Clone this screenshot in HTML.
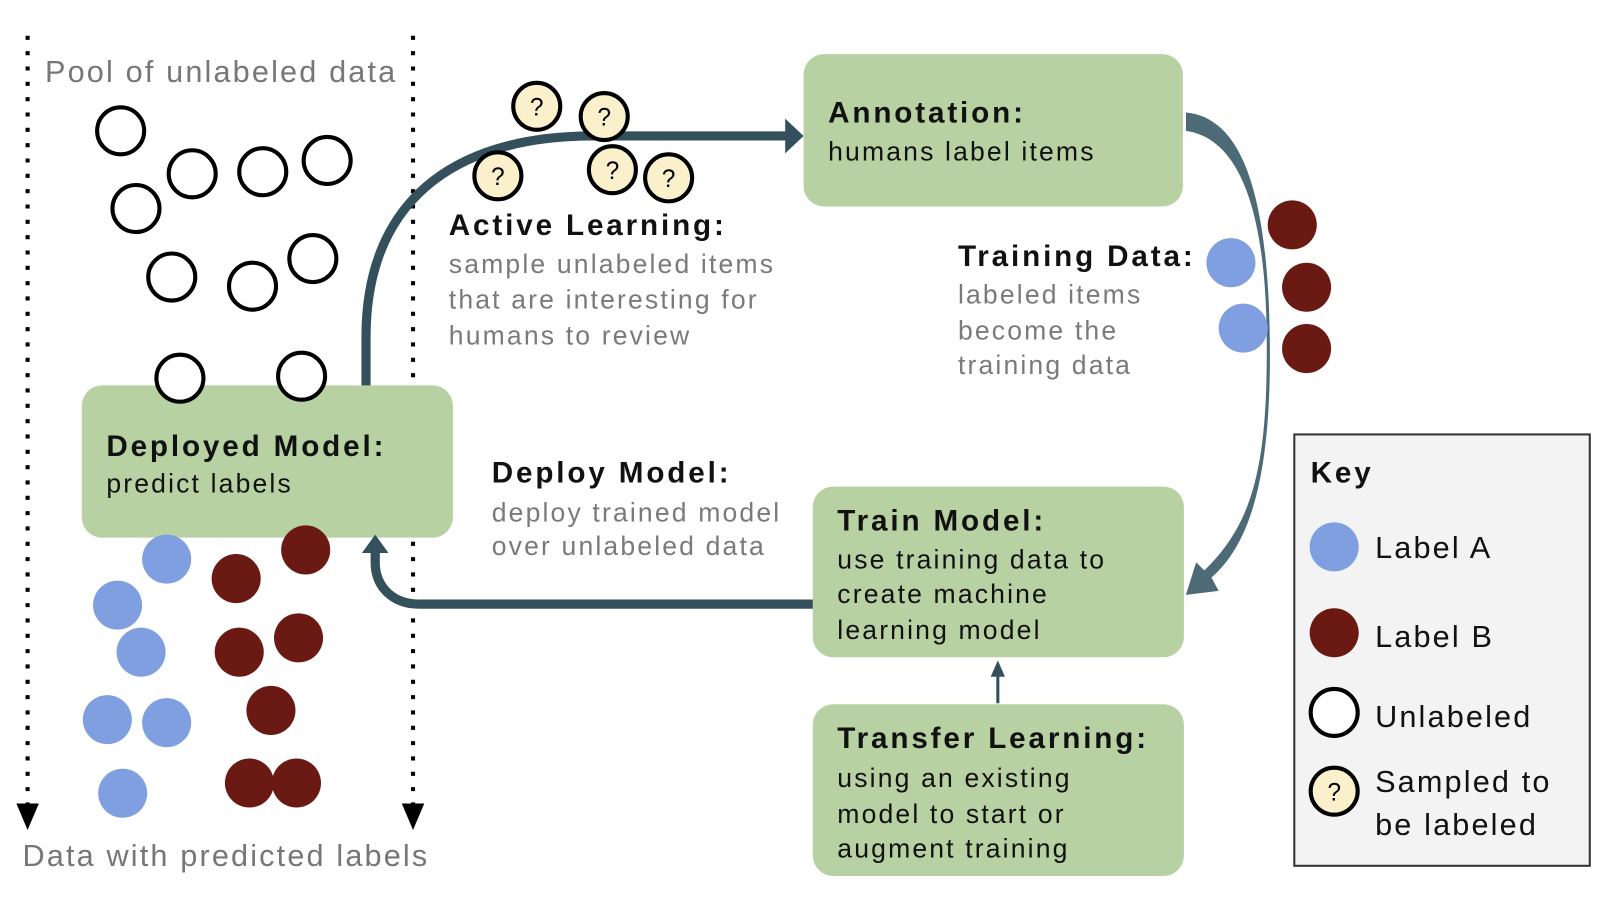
<!DOCTYPE html>
<html><head><meta charset="utf-8"><style>
html,body{margin:0;padding:0;background:#fff;}
svg{display:block;font-family:"Liberation Sans",Arial,sans-serif;}
text{letter-spacing:2.1px;}
.h{font-weight:bold;font-size:29px;fill:#111;letter-spacing:2.8px;}
.b{font-size:26px;fill:#111;}
.g{font-size:26px;fill:#7a7a7a;}
.u{fill:#fff;stroke:#000;stroke-width:4;}
.q{fill:#fbf0cc;stroke:#000;stroke-width:4;}
.qt{font-size:24px;fill:#000;text-anchor:middle;letter-spacing:0;}
.A{fill:#7f9fe0;}
.B{fill:#6a1a12;}
.box{fill:#b7d1a2;}
</style></head><body>
<svg width="1600" height="898" viewBox="0 0 1565 878.5" preserveAspectRatio="none">
<line x1="27" y1="35" x2="27" y2="790" stroke="#000" stroke-width="4" stroke-dasharray="4,11"/>
<line x1="404" y1="35" x2="404" y2="790" stroke="#000" stroke-width="4" stroke-dasharray="4,11"/>
<polygon points="16,786 38,786 27,812" fill="#000"/>
<polygon points="393,786 415,786 404,812" fill="#000"/>
<text x="44" y="80" style="font-size:30px;fill:#777">Pool of unlabeled data</text>
<text x="22" y="847" style="font-size:30px;fill:#777">Data with predicted labels</text>

<g class="u">
<circle cx="118" cy="128" r="23"/><circle cx="188" cy="170" r="23"/><circle cx="257" cy="168" r="23"/>
<circle cx="320" cy="157" r="23"/><circle cx="133" cy="204" r="23"/><circle cx="168" cy="271" r="23"/>
<circle cx="247" cy="280" r="23"/><circle cx="306" cy="253" r="23"/>
</g>

<path d="M358,380 L358,330 C358,200 440,133 580,133 L772,133" fill="none" stroke="#34505c" stroke-width="9"/>
<polygon points="768,116 786,133 768,150" fill="#34505c"/>

<rect class="box" x="80" y="377" width="363" height="149" rx="20"/>
<g class="u"><circle cx="176" cy="370" r="23"/><circle cx="295" cy="368" r="23"/></g>
<text x="104" y="446" class="h">Deployed Model:</text>
<text x="104" y="482" class="b">predict labels</text>

<g class="A"><circle cx="163" cy="547" r="24"/><circle cx="115" cy="592" r="24"/><circle cx="138" cy="638" r="24"/>
<circle cx="105" cy="704" r="24"/><circle cx="163" cy="707" r="24"/><circle cx="120" cy="776" r="24"/></g>
<g class="B"><circle cx="231" cy="566" r="24"/><circle cx="299" cy="538" r="24"/><circle cx="234" cy="638" r="24"/>
<circle cx="292" cy="624" r="24"/><circle cx="265" cy="695" r="24"/><circle cx="244" cy="766" r="24"/><circle cx="290" cy="766" r="24"/></g>

<g><circle class="q" cx="525" cy="104" r="23"/><text class="qt" x="525" y="113">?</text>
<circle class="q" cx="591" cy="114" r="23"/><text class="qt" x="591" y="123">?</text>
<circle class="q" cx="487" cy="172" r="23"/><text class="qt" x="487" y="181">?</text>
<circle class="q" cx="599" cy="166" r="23"/><text class="qt" x="599" y="175">?</text>
<circle class="q" cx="654" cy="174" r="23"/><text class="qt" x="654" y="183">?</text></g>

<text x="439" y="230" class="h">Active Learning:</text>
<text x="439" y="267" class="g">sample unlabeled items</text>
<text x="439" y="302" class="g">that are interesting for</text>
<text x="439" y="337" class="g">humans to review</text>

<rect class="box" x="786" y="53" width="371" height="149" rx="20"/>
<text x="810" y="120" class="h">Annotation:</text>
<text x="810" y="157" class="b">humans label items</text>

<path d="M1160,110 C1215,115 1240,190 1242,330 C1244,460 1225,530 1185,565 L1192,578 L1160,582 L1170,550 L1178,558 C1228,510 1240,450 1239,330 C1238,200 1210,135 1160,128 Z" fill="#4c6b77"/>

<text x="937" y="260" class="h">Training Data:</text>
<text x="937" y="297" class="g">labeled items</text>
<text x="937" y="332" class="g">become the</text>
<text x="937" y="366" class="g">training data</text>
<circle class="A" cx="1204" cy="257" r="24"/><circle class="A" cx="1216" cy="321" r="24"/>
<circle class="B" cx="1264" cy="220" r="24"/><circle class="B" cx="1278" cy="281" r="24"/><circle class="B" cx="1278" cy="341" r="24"/>

<path d="M800,591 L410,591 C385,591 367,575 367,550 L367,538" fill="none" stroke="#34505c" stroke-width="9"/>
<polygon points="354,541 367,523 380,541" fill="#34505c"/>
<text x="481" y="472" class="h">Deploy Model:</text>
<text x="481" y="510" class="g">deploy trained model</text>
<text x="481" y="543" class="g">over unlabeled data</text>

<rect class="box" x="795" y="476" width="363" height="167" rx="20"/>
<text x="819" y="519" class="h">Train Model:</text>
<text x="819" y="556" class="b">use training data to</text>
<text x="819" y="590" class="b">create machine</text>
<text x="819" y="625" class="b">learning model</text>

<line x1="976" y1="688" x2="976" y2="658" stroke="#34505c" stroke-width="3"/>
<polygon points="969,662 976,646 983,662" fill="#34505c"/>

<rect class="box" x="795" y="689" width="363" height="168" rx="20"/>
<text x="819" y="732" class="h">Transfer Learning:</text>
<text x="819" y="770" class="b">using an existing</text>
<text x="819" y="805" class="b">model to start or</text>
<text x="819" y="839" class="b">augment training</text>

<rect x="1266" y="425" width="289" height="422" fill="#f3f3f3" stroke="#333" stroke-width="2"/>
<text x="1282" y="472" class="h">Key</text>
<circle class="A" cx="1305" cy="535" r="24"/>
<text x="1345" y="546" style="font-size:30px;fill:#111">Label A</text>
<circle class="B" cx="1305" cy="619" r="24"/>
<text x="1345" y="633" style="font-size:30px;fill:#111">Label B</text>
<circle class="u" cx="1305" cy="697" r="23"/>
<text x="1345" y="711" style="font-size:30px;fill:#111">Unlabeled</text>
<circle class="q" cx="1305" cy="774" r="23"/><text class="qt" x="1305" y="783">?</text>
<text x="1345" y="775" style="font-size:30px;fill:#111">Sampled to</text>
<text x="1345" y="817" style="font-size:30px;fill:#111">be labeled</text>
</svg>
</body></html>
